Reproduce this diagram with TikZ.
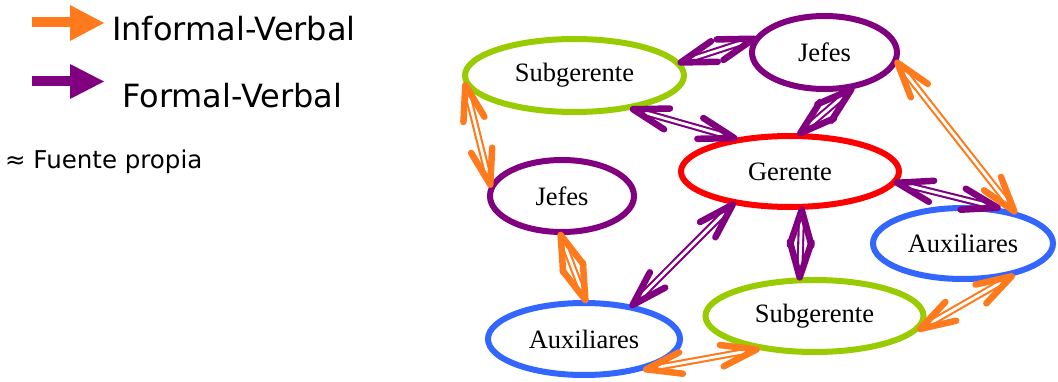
\documentclass[tikz,border=0pt]{standalone}
\usepackage{fontspec}
\setmainfont{Liberation Serif}
\newfontfamily\legendfont{DejaVu Sans}
\usetikzlibrary{calc,shapes.geometric}

\definecolor{infcol}{RGB}{255,122,28}
\definecolor{formcol}{RGB}{128,0,128}
\definecolor{subcol}{RGB}{153,204,0}
\definecolor{gercol}{RGB}{255,0,0}
\definecolor{auxcol}{RGB}{51,102,255}

\tikzset{
  role/.style={ellipse, draw=#1, line width=6pt, fill=white, inner sep=0pt,
    font=\fontsize{26.5}{30}\selectfont},
  shaftline/.style={draw=#1, line width=2.1pt, double=white, double distance=2.8pt,
    shorten <=3pt, shorten >=3pt},
  barbline/.style={draw=#1, line width=6.5pt, line cap=round, line join=round},
  legendtext/.style={anchor=base west, inner sep=0pt,
    font=\legendfont\fontsize{32}{36}\selectfont},
}

% two-way link: double shaft with an open barb at each end
\newcommand\commlink[3]{%
  \draw[shaftline=#1] (#2) -- (#3);
  \draw[barbline=#1] ($(#2)!37pt!17:(#3)$) -- (#2) -- ($(#2)!37pt!-17:(#3)$);
  \draw[barbline=#1] ($(#3)!37pt!17:(#2)$) -- (#3) -- ($(#3)!37pt!-17:(#2)$);
}

\begin{document}
\begin{tikzpicture}[x=1pt,y=1pt]
\useasboundingbox (0,0) rectangle (1058,381);

% legend
\fill[infcol] (32,353.5) rectangle (71,363.5);
\fill[infcol] (70,376) -- (104,358) -- (70,340) -- cycle;
\fill[formcol] (32,294.5) rectangle (71,304.5);
\fill[formcol] (70,317) -- (104,299.5) -- (70,282) -- cycle;
\node[legendtext] (leginf) at (112,340) {Informal-Verbal};
\node[legendtext] (legform) at (122,273) {Formal-Verbal};
\node[legendtext, font=\legendfont\fontsize{24.5}{28}\selectfont] (source) at (5,213) {≈ Fuente propia};

% roles
\node[role=subcol, minimum width=219pt, minimum height=73pt] (subA) at (574.5,305.5) {Subgerente};
\node[role=formcol, minimum width=145pt, minimum height=73pt] (jefA) at (824.5,328.5) {Jefes};
\node[role=gercol, minimum width=218pt, minimum height=71pt] (ger) at (790,209.5) {Gerente};
\node[role=formcol, minimum width=144pt, minimum height=72pt] (jefB) at (562,185) {Jefes};
\node[role=auxcol, minimum width=180pt, minimum height=71pt] (auxR) at (963,137.5) {Auxiliares};
\node[role=subcol, minimum width=218pt, minimum height=72pt] (subB) at (814.5,65) {Subgerente};
\node[role=auxcol, minimum width=192pt, minimum height=72pt] (auxL) at (584,42) {Auxiliares};

% communication links
\commlink{formcol}{subA.7}{jefA.169}
\commlink{formcol}{subA.-30}{ger.149}
\commlink{formcol}{jefA.-54}{ger.75}
\commlink{infcol}{jefA.-8}{auxR.32}
\commlink{infcol}{subA.185}{jefB.171}
\commlink{formcol}{ger.-6}{auxR.46}
\commlink{formcol}{ger.210}{auxL.35}
\commlink{formcol}{ger.-73}{subB.111}
\commlink{infcol}{jefB.-92}{auxL.88}
\commlink{infcol}{auxL.-26}{subB.210}
\commlink{infcol}{subB.-7}{auxR.-34}
\end{tikzpicture}
\end{document}
